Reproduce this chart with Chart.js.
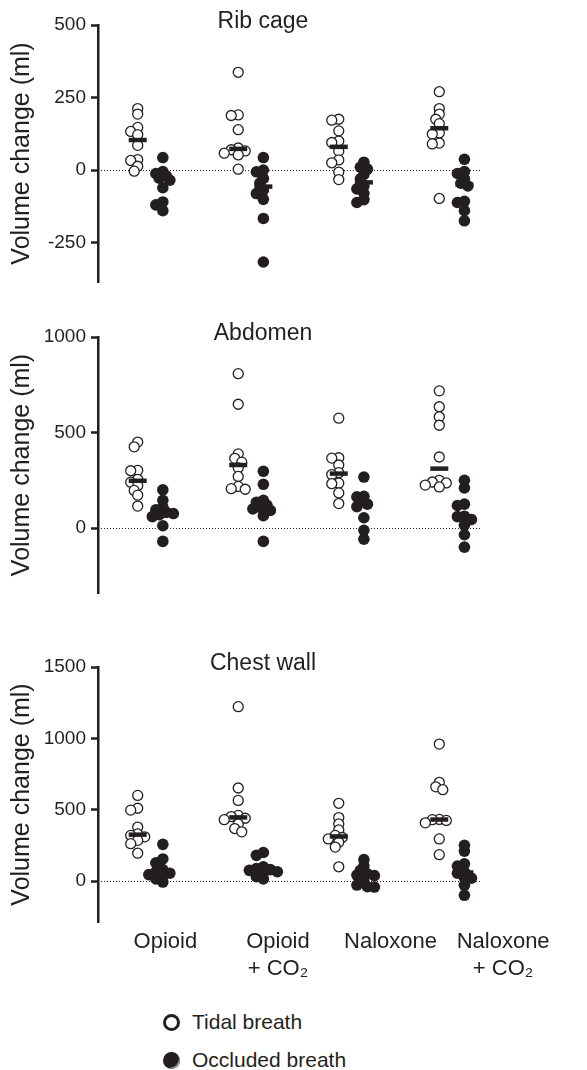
<!DOCTYPE html>
<html>
<head>
<meta charset="utf-8">
<script src="https://cdn.jsdelivr.net/npm/chart.js@4.4.1/dist/chart.umd.min.js"></script>
<style>
    body {
        margin: 0;
        width: 587px;
        height: 1070px;
        position: relative;
        overflow: hidden;
        background: #fff;
        font-family: "Liberation Sans", Arial, sans-serif;
        color: #231f20;
    }
    canvas { position: absolute; left: 0; }
    #legend { position: absolute; left: 163px; top: 1003px; }
    #legend .item { display: flex; align-items: center; height: 38px; font-size: 21px; }
    #legend .mark { width: 17px; height: 17px; border-radius: 50%; box-sizing: border-box; margin-right: 12px; }
    #legend .open { border: 3px solid #231f20; background: #fff; }
    #legend .filled { background: #231f20; box-shadow: inset -2px -2px 0 -1px #9a9a9a; }
</style>
</head>
<body>
<canvas id="ribChart" width="587" height="300" style="top:0"></canvas>
<canvas id="abdChart" width="587" height="300" style="top:310px"></canvas>
<canvas id="chestChart" width="587" height="360" style="top:640px"></canvas>
<div id="legend"></div>

<script>
// ============================================
// Volume change per condition: tidal vs occluded breaths
// ============================================

const groupLabels = [['Opioid'], ['Opioid', '+ CO₂'], ['Naloxone'], ['Naloxone', '+ CO₂']];
const seriesNames = ['Tidal breath', 'Occluded breath'];

// Rib cage (ml), one list per condition
const ribTidal = [
    [212, 193, 147, 133, 122, 85, 36, 33, 13, -4],
    [337, 190, 188, 139, 76, 70, 66, 58, 52, 3],
    [175, 172, 135, 100, 95, 65, 35, 25, -7, -33],
    [270, 212, 193, 175, 160, 128, 124, 93, 90, -98]
];
const ribOccluded = [
    [43, -5, -12, -20, -28, -35, -61, -110, -120, -140],
    [43, 0, -6, -29, -45, -69, -81, -101, -167, -317],
    [27, 10, 3, -15, -30, -55, -65, -80, -102, -112],
    [37, -5, -12, -30, -45, -55, -108, -112, -140, -175]
];
const ribTicks = [-250, 0, 250, 500];

// Abdomen (ml)
const abdTidal = [
    [450, 425, 302, 300, 255, 240, 222, 197, 172, 115],
    [808, 648, 388, 365, 345, 315, 270, 218, 206, 203],
    [575, 368, 366, 330, 290, 280, 235, 232, 184, 128],
    [718, 635, 582, 538, 372, 250, 241, 236, 225, 215]
];
const abdOccluded = [
    [200, 145, 110, 95, 82, 76, 70, 60, 12, -70],
    [297, 229, 145, 135, 120, 110, 100, 92, 65, -70],
    [267, 166, 163, 140, 125, 112, 54, -12, -58],
    [250, 210, 125, 118, 62, 60, 45, 15, -35, -100]
];
const abdTicks = [0, 500, 1000];

// Chest wall (ml)
const chestTidal = [
    [600, 510, 497, 378, 330, 320, 310, 285, 262, 195],
    [1222, 652, 565, 460, 452, 440, 430, 400, 368, 345],
    [545, 445, 400, 358, 320, 305, 295, 272, 238, 100],
    [960, 692, 660, 640, 430, 432, 425, 408, 295, 185]
];
const chestOccluded = [
    [257, 155, 128, 80, 65, 55, 45, 35, 15, -7],
    [200, 180, 100, 88, 80, 75, 65, 55, 30, 15],
    [150, 105, 75, 50, 42, 38, -5, -28, -40, -42],
    [250, 210, 120, 105, 65, 55, 25, 20, -30, -100]
];
const chestTicks = [0, 500, 1000, 1500];

const INK = '#231f20';
const FONT = '"Liberation Sans", Arial, sans-serif';
const SIDE = 0.125;          // tidal left of group centre, occluded right
const SPREAD = [0, -3.5, 3.5, -7, 7, -10.5, 10.5, -14, 14];
const MIN_GAP = 5.5;
// category labels sit a little wider apart than the groups
const LABEL_START = 1.15, LABEL_STEP = 1.12;

Chart.defaults.font.family = FONT;
Chart.defaults.color = INK;

function median(values) {
    const s = [...values].sort((a, b) => a - b);
    const m = Math.floor(s.length / 2);
    return s.length % 2 ? s[m] : (s[m - 1] + s[m]) / 2;
}

function toPoints(groups, offset) {
    return groups.flatMap((vals, g) => vals.map(v => ({ x: g + 1 + offset, y: v, base: g + 1 + offset })));
}

// dotted line at zero across the plot
const zeroLine = {
    id: 'zeroLine',
    beforeDatasetsDraw(chart) {
        const { ctx, chartArea: a, scales: { y } } = chart;
        const py = Math.round(y.getPixelForValue(0)) + 0.5;
        ctx.save();
        ctx.setLineDash([1, 2]);
        ctx.strokeStyle = INK;
        ctx.lineWidth = 1;
        ctx.beginPath();
        ctx.moveTo(a.left + 3, py);
        ctx.lineTo(a.right, py);
        ctx.stroke();
        ctx.restore();
    }
};

// title sits inside the plot, level with the top tick
const panelTitle = {
    id: 'panelTitle',
    afterDraw(chart, args, opts) {
        const { ctx, chartArea: a } = chart;
        ctx.save();
        ctx.font = '23px ' + FONT;
        ctx.fillStyle = INK;
        ctx.textAlign = 'center';
        ctx.textBaseline = 'middle';
        ctx.fillText(opts.text, a.left + opts.offset, a.top + opts.dy);
        ctx.restore();
    }
};

// push overlapping points sideways, beeswarm style
function spreadPoints(chart) {
    const xs = chart.scales.x, ys = chart.scales.y;
    const unit = xs.getPixelForValue(1) - xs.getPixelForValue(0);
    chart.data.datasets.slice(1).forEach(ds => {
        const byBase = {};
        ds.data.forEach(p => { (byBase[p.base] = byBase[p.base] || []).push(p); });
        const out = [];
        Object.values(byBase).forEach(pts => {
            const placed = [];
            [...pts].sort((a, b) => b.y - a.y).forEach(p => {
                const py = ys.getPixelForValue(p.y);
                let off = SPREAD.find(o => placed.every(q => Math.hypot(q.off - o, q.py - py) >= MIN_GAP));
                if (off === undefined) off = 0;
                placed.push({ off, py });
                out.push({ x: p.base + off / unit, y: p.y, base: p.base });
            });
        });
        ds.data = out;
    });
    chart.update('none');
}

function makePanel(id, title, tidal, occluded, ticks, yMin, yMax, pad, showX) {
    const medians = [
        ...tidal.map((v, g) => ({ x: g + 1 - SIDE, y: median(v) })),
        ...occluded.map((v, g) => ({ x: g + 1 + SIDE, y: median(v) }))
    ];

    const chart = new Chart(document.getElementById(id), {
        type: 'scatter',
        data: {
            datasets: [{
                label: 'Median',
                data: medians,
                pointStyle: 'line',
                pointRadius: 9,
                borderWidth: 4.5,
                borderColor: INK
            }, {
                label: seriesNames[0],
                data: toPoints(tidal, -SIDE),
                pointRadius: 5,
                backgroundColor: '#fff',
                borderColor: INK,
                borderWidth: 1.3
            }, {
                label: seriesNames[1],
                data: toPoints(occluded, SIDE),
                pointRadius: 5.8,
                backgroundColor: INK,
                borderColor: INK,
                borderWidth: 0
            }]
        },
        options: {
            responsive: false,
            animation: false,
            devicePixelRatio: 1,
            clip: false,
            layout: { padding: pad },
            plugins: {
                legend: { display: false },
                tooltip: { enabled: false },
                panelTitle: { text: title, offset: 165, dy: -3 }
            },
            scales: {
                x: {
                    type: 'linear',
                    min: 0.48,
                    max: 4.28,
                    display: showX,
                    grid: { display: false },
                    border: { display: false },
                    afterBuildTicks: scale => {
                        scale.ticks = groupLabels.map((_, i) => ({ value: LABEL_START + i * LABEL_STEP }));
                    },
                    afterFit: scale => { if (showX) scale.height = 78; },
                    ticks: {
                        font: { size: 22, lineHeight: 1.25 },
                        padding: -2,
                        maxRotation: 0,
                        autoSkip: false,
                        callback: (value, index) => groupLabels[index]
                    }
                },
                y: {
                    min: yMin,
                    max: yMax,
                    afterBuildTicks: scale => { scale.ticks = ticks.map(v => ({ value: v })); },
                    afterFit: scale => { scale.width = 98; },
                    grid: {
                        display: true,
                        drawOnChartArea: false,
                        drawTicks: true,
                        tickLength: 7,
                        tickWidth: 2.5,
                        tickColor: INK
                    },
                    border: { display: true, width: 2.5, color: INK },
                    ticks: { font: { size: 19 }, padding: 5, callback: v => String(v) },
                    title: {
                        display: true,
                        text: 'Volume change (ml)',
                        font: { size: 25 },
                        padding: { top: 7, bottom: 0 }
                    }
                }
            }
        },
        plugins: [zeroLine, panelTitle]
    });
    spreadPoints(chart);
    return chart;
}

makePanel('ribChart', 'Rib cage', ribTidal, ribOccluded, ribTicks, -386, 500,
    { top: 25, bottom: 18, left: 0, right: 107 }, false);
makePanel('abdChart', 'Abdomen', abdTidal, abdOccluded, abdTicks, -340, 1000,
    { top: 27, bottom: 17, left: 0, right: 107 }, false);
const chestChart = makePanel('chestChart', 'Chest wall', chestTidal, chestOccluded, chestTicks, -287, 1500,
    { top: 27, bottom: 0, left: 0, right: 107 }, true);

// legend built from the chart's own series
const legend = document.getElementById('legend');
chestChart.data.datasets.slice(1).forEach((ds, i) => {
    const item = document.createElement('div');
    item.className = 'item';
    const mark = document.createElement('span');
    mark.className = 'mark ' + (i === 0 ? 'open' : 'filled');
    item.appendChild(mark);
    item.appendChild(document.createTextNode(ds.label));
    legend.appendChild(item);
});
</script>
</body>
</html>
